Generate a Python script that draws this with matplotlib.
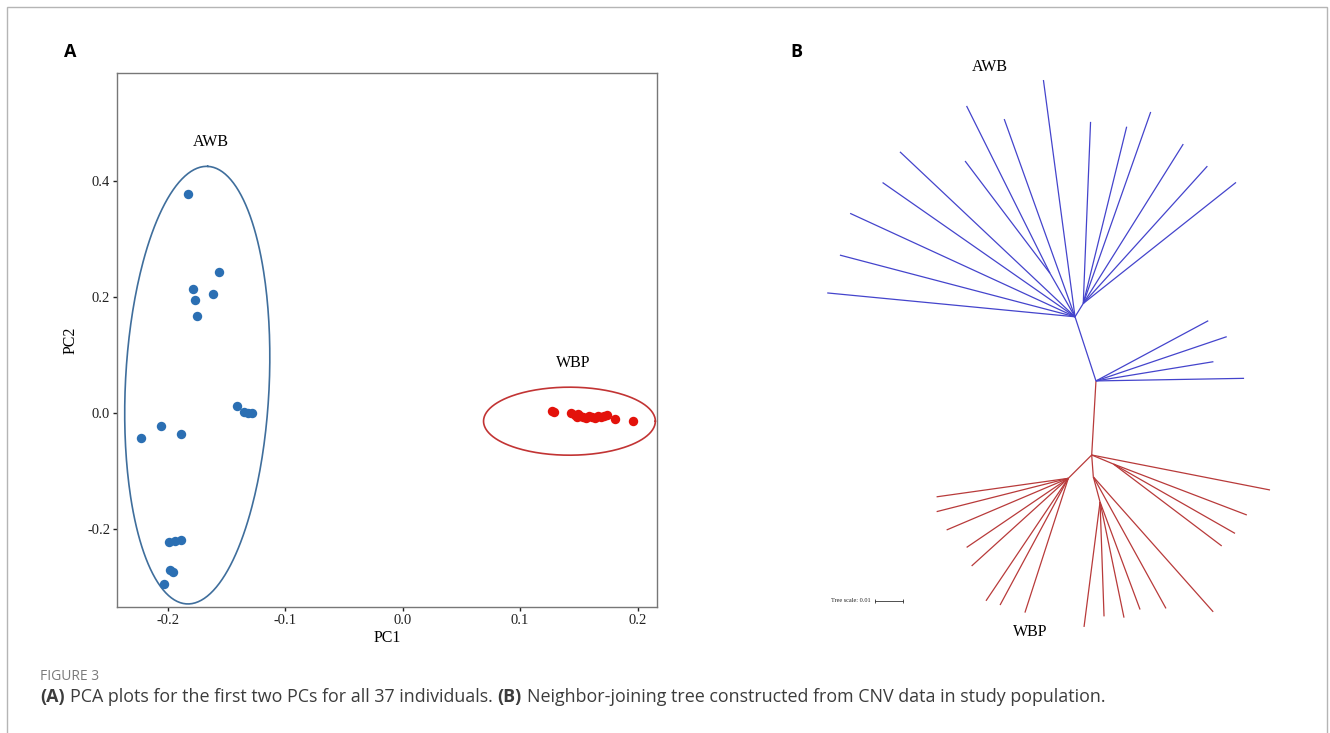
import numpy as np
import matplotlib
matplotlib.use("Agg")
from matplotlib import pyplot as plt
from matplotlib.patches import Rectangle

# PCA scores (panel A)
awb_pc1 = [-0.1826, -0.1565, -0.1786, -0.1610, -0.1769, -0.1749, -0.1406, -0.1349, -0.1315,
           -0.1284, -0.2222, -0.2058, -0.1882, -0.1987, -0.1936, -0.1882, -0.1981, -0.1956, -0.2032]
awb_pc2 = [0.377, 0.242, 0.2128, 0.2041, 0.1938, 0.1662, 0.0121, 0.0017, 0.0, -0.001,
           -0.0441, -0.0234, -0.0367, -0.2217, -0.2200, -0.2195, -0.270, -0.2741, -0.2948]
wbp_pc1 = [0.1273, 0.1290, 0.1437, 0.1463, 0.1488, 0.1497, 0.1514, 0.1539, 0.1565, 0.1590,
           0.1616, 0.1641, 0.1667, 0.1692, 0.1718, 0.1743, 0.1805, 0.1958]
wbp_pc2 = [0.0034, 0.0020, -0.0005, -0.0040, -0.0074, -0.0022, -0.0057, -0.0074, -0.0091, -0.0057,
           -0.0074, -0.0091, -0.0057, -0.0074, -0.0057, -0.0040, -0.0097, -0.0143]

# group ellipses: centre and the two half-axis vectors (data units)
awb_ellipse = ((-0.1747, 0.0478), (0.0089, 0.377), (0.0611, -0.0059))
wbp_ellipse = ((0.142, -0.0143), (0.0731, 0.0), (0.0, 0.0586))

x_ticks = [-0.2, -0.1, 0.0, 0.1, 0.2]
y_ticks = [-0.2, 0.0, 0.2, 0.4]

# neighbor-joining tree (panel B): child, parent, branch length, angle (deg)
tree_edges = [
    ("H2", "R", 0.0265, 86.7),
    ("H1", "H2", 0.0241, 108.1),
    ("AWB16", "H2", 0.0455, 28.2),
    ("AWB17", "H2", 0.0493, 18.7),
    ("AWB18", "H2", 0.0425, 9.3),
    ("AWB19", "H2", 0.0529, 1.0),
    ("AWB01", "H1", 0.0889, 174.5),
    ("AWB02", "H1", 0.0868, 165.3),
    ("AWB03", "H1", 0.0884, 155.3),
    ("AWB04", "H1", 0.0838, 145.1),
    ("AWB05", "H1", 0.0859, 136.7),
    ("a", "H1", 0.0179, 119.9),
    ("AWB06", "a", 0.0503, 127.1),
    ("AWB07", "a", 0.0668, 116.5),
    ("AWB08", "H1", 0.0750, 109.7),
    ("AWB09", "H1", 0.0853, 97.6),
    ("c", "H1", 0.0056, 58.2),
    ("AWB10", "c", 0.0649, 87.7),
    ("AWB11", "c", 0.0650, 76.2),
    ("AWB12", "c", 0.0725, 70.6),
    ("AWB13", "c", 0.0672, 57.9),
    ("AWB14", "c", 0.0661, 47.9),
    ("AWB15", "c", 0.0696, 38.4),
    ("WBP01", "R", 0.0649, -11.1),
    ("Rr", "R", 0.0084, -22.6),
    ("WBP02", "Rr", 0.0510, -20.9),
    ("WBP03", "Rr", 0.0500, -29.7),
    ("WBP04", "Rr", 0.0485, -37.1),
    ("Rd", "R", 0.0078, -85.8),
    ("Rd2", "Rd", 0.0093, -75.0),
    ("WBP05", "Rd2", 0.0450, -97.3),
    ("WBP06", "Rd2", 0.0409, -88.0),
    ("WBP07", "Rd2", 0.0422, -78.3),
    ("WBP08", "Rd2", 0.0410, -69.6),
    ("WBP09", "Rd", 0.0537, -61.1),
    ("WBP10", "Rd", 0.0645, -48.4),
    ("Rl", "R", 0.0118, -135.1),
    ("WBP11", "Rl", 0.0475, -172.0),
    ("WBP12", "Rl", 0.0485, -165.8),
    ("WBP13", "Rl", 0.0472, -157.0),
    ("WBP14", "Rl", 0.0439, -145.8),
    ("WBP15", "Rl", 0.0466, -137.8),
    ("WBP16", "Rl", 0.0527, -123.9),
    ("WBP17", "Rl", 0.0514, -118.3),
    ("WBP18", "Rl", 0.0504, -107.9),
]
tree_scale = 0.01

W, H = 1330, 733
serif = "Liberation Serif"
blue_pt, blue_ln = "#2b6fb3", "#3f6e9c"
red_pt, red_ln = "#e3120b", "#c23434"


def px(x, y):
    # pixel (from top-left) -> figure fraction
    return x / W, 1 - y / H


def draw_ellipse(ax, ell, color):
    (cx, cy), (ax1, ay1), (bx1, by1) = ell
    t = np.linspace(0, 2 * np.pi, 300)
    ax.plot(cx + ax1 * np.cos(t) + bx1 * np.sin(t),
            cy + ay1 * np.cos(t) + by1 * np.sin(t), color=color, lw=1.2)


fig = plt.figure(figsize=(W / 100, H / 100), dpi=100)

# figure frame
fig.patches.append(Rectangle(px(7, 760), 1320 / W, 753 / H, transform=fig.transFigure,
                             fill=False, edgecolor="#b5b5b5", lw=1.0))

# ---- panel A ----
l, b = px(117, 607)
axA = fig.add_axes([l, b, 540 / W, 534 / H])
axA.scatter(awb_pc1, awb_pc2, s=46, color=blue_pt, zorder=3, linewidths=0)
axA.scatter(wbp_pc1, wbp_pc2, s=46, color=red_pt, zorder=3, linewidths=0)
draw_ellipse(axA, awb_ellipse, blue_ln)
draw_ellipse(axA, wbp_ellipse, red_ln)
axA.set_xlim(-0.243, 0.2165)
axA.set_ylim(-0.3345, 0.5857)
axA.set_xticks(x_ticks)
axA.set_yticks(y_ticks)
axA.set_xticklabels(["%.1f" % v for v in x_ticks], family=serif, fontsize=10.5, color="#222222")
axA.set_yticklabels(["%.1f" % v for v in y_ticks], family=serif, fontsize=10.5, color="#222222")
axA.tick_params(length=3, width=1.0, color="#222222", pad=2)
for sp in axA.spines.values():
    sp.set_color("#777777")
    sp.set_linewidth(1.0)
axA.set_xlabel("PC1", family=serif, fontsize=11.5, labelpad=2)
axA.set_ylabel("PC2", family=serif, fontsize=11.5, labelpad=6)
axA.text(-0.163, 0.467, "AWB", family=serif, fontsize=11.5, ha="center", va="center")
axA.text(0.145, 0.086, "WBP", family=serif, fontsize=11.5, ha="center", va="center")

# ---- panel B ----
root_px = (1091.7, 455)
scale_px = 2800  # pixels per tree unit
l, b = px(800, 640)
axB = fig.add_axes([l, b, 500 / W, 580 / H])
axB.set_xlim((800 - root_px[0]) / scale_px, (1300 - root_px[0]) / scale_px)
axB.set_ylim((root_px[1] - 640) / scale_px, (root_px[1] - 60) / scale_px)
axB.axis("off")

pos = {"R": (0.0, 0.0)}
awb_nodes = {"H2"}
for child, parent, length, ang in tree_edges:
    x0, y0 = pos[parent]
    a = np.deg2rad(ang)
    pos[child] = (x0 + length * np.cos(a), y0 + length * np.sin(a))
    if parent in awb_nodes:
        awb_nodes.add(child)
        col = "#4444cc"
    else:
        col = "#b83a3a"
    axB.plot([x0, pos[child][0]], [y0, pos[child][1]], color=col, lw=0.9,
             solid_capstyle="butt")

sx, sy = (875 - root_px[0]) / scale_px, (root_px[1] - 601) / scale_px
axB.plot([sx, sx + tree_scale], [sy, sy], color="#333333", lw=0.6,
         marker="|", markersize=2.5, markeredgewidth=0.6)
axB.text(sx - 0.0015, sy, "Tree scale: %.2f" % tree_scale, family=serif, fontsize=4.5,
         ha="right", va="center", color="#222222")

fig.text(*px(990, 67), "AWB", family=serif, fontsize=11.5, ha="center", va="center")
fig.text(*px(1030, 632), "WBP", family=serif, fontsize=11.5, ha="center", va="center")

# panel letters
fig.text(*px(70, 52), "A", fontsize=13, fontweight="bold", ha="center", va="center",
         family="Open Sans")
fig.text(*px(796, 52), "B", fontsize=13, fontweight="bold", ha="center", va="center",
         family="Open Sans")

# caption
fig.text(*px(40, 676), "FIGURE 3", fontsize=10, color="#7a7a7a", va="center",
         family="Open Sans")
renderer = fig.canvas.get_renderer()
parts = [("(A)", True), ("PCA plots for the first two PCs for all 37 individuals.", False),
         ("(B)", True), ("Neighbor-joining tree constructed from CNV data in study population.", False)]
x = 40
for s, bold in parts:
    t = fig.text(*px(x, 697), s, fontsize=12.9, color="#3c3c3c", va="center",
                 family="Open Sans", fontweight="bold" if bold else "normal")
    bb = t.get_window_extent(renderer)
    x = bb.x1 + 5

fig.savefig("out.png", dpi=100)
